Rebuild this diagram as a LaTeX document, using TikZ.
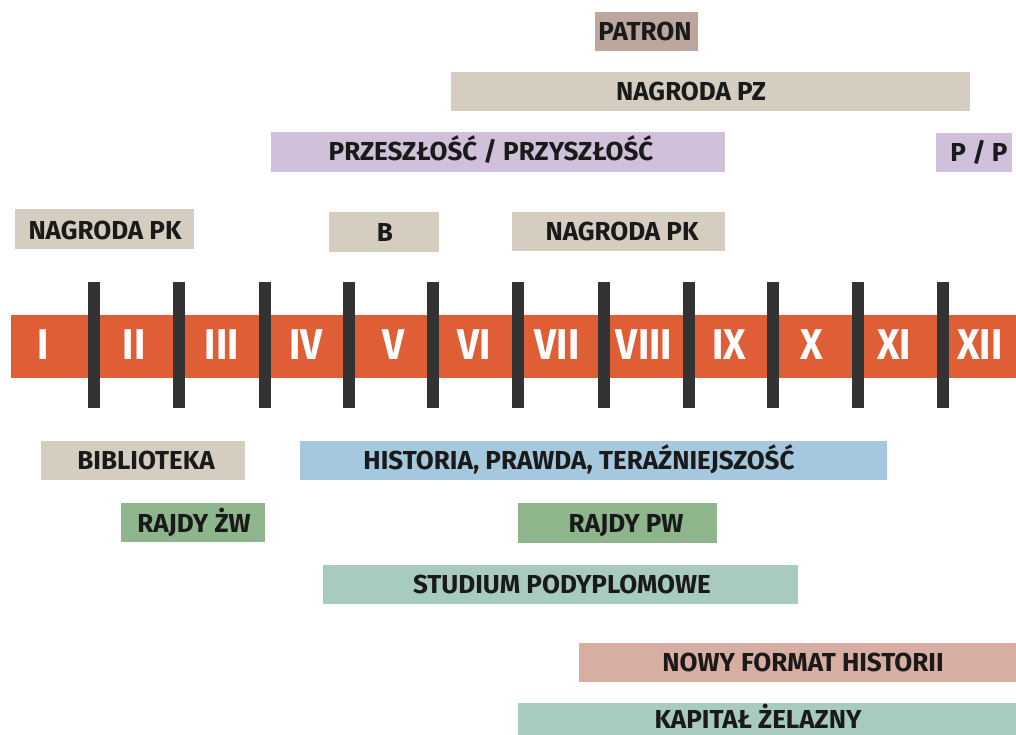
\documentclass[tikz,border=0pt]{standalone}
\usepackage{fontspec}
\setmainfont{Fira Sans}
\newfontfamily\numeralfont{Fira Sans}[FakeStretch=0.9]
\tikzset{
  lbl/.style={font=\bfseries\fontsize{26}{26}\selectfont, text=inkdark, inner sep=0pt, anchor=base},
  num/.style={font=\numeralfont\bfseries\fontsize{43}{43}\selectfont, text=white, inner sep=0pt, anchor=base},
  divider/.style={line width=12pt, draw=bardark}
}
\begin{document}
\begin{tikzpicture}[x=1pt,y=-1pt]
\definecolor{inkdark}{RGB}{26,26,26}
\definecolor{bardark}{RGB}{51,51,51}
\definecolor{bandorange}{RGB}{224,94,54}
\definecolor{beige}{RGB}{213,205,191}
\definecolor{taupe}{RGB}{189,166,156}
\definecolor{lilac}{RGB}{208,192,218}
\definecolor{skyblue}{RGB}{165,200,222}
\definecolor{sage}{RGB}{143,181,141}
\definecolor{seafoam}{RGB}{168,203,192}
\definecolor{blush}{RGB}{216,173,162}

	\useasboundingbox (0,0) rectangle (1016,735);

	% above the timeline
	\fill[taupe] (595,12) rectangle (698,51);
	\fill[beige] (451,72) rectangle (970,111);
	\fill[lilac] (271,132) rectangle (725,172);
	\fill[lilac] (936,133) rectangle (1012,172);
	\fill[beige] (15,209) rectangle (194,249);
	\fill[beige] (329,212) rectangle (439,252);
	\fill[beige] (512,212) rectangle (725,251);

	\node[lbl] (patron) at (645,40.5){PATRON};
	\node[lbl] (nagrodaPZ) at (691,100.5){NAGRODA PZ};
	\node[lbl] (przeszlosc) at (491,161){PRZESZŁOŚĆ / PRZYSZŁOŚĆ};
	\node[lbl] (pp) at (979,161.5){P / P};
	\node[lbl] (nagrodaPKa) at (105,240){NAGRODA PK};
	\node[lbl] (b) at (385,241){B};
	\node[lbl] (nagrodaPKb) at (622,240.5){NAGRODA PK};

	% timeline
	\fill[bandorange] (11,315) rectangle (1016,378);

	\node[num] (m1) at (43,359){I};
	\node[num] (m2) at (134,359){II};
	\node[num] (m3) at (222,359){III};
	\node[num] (m4) at (306,359){IV};
	\node[num] (m5) at (394,359){V};
	\node[num] (m6) at (474,359){VI};
	\node[num] (m7) at (557,359){VII};
	\node[num] (m8) at (644,359){VIII};
	\node[num] (m9) at (729,359){IX};
	\node[num] (m10) at (812,359){X};
	\node[num] (m11) at (894,359){XI};
	\node[num] (m12) at (980,359){XII};

	\draw[divider] (94,282) -- (94,408);
	\draw[divider] (179,282) -- (179,408);
	\draw[divider] (265,282) -- (265,408);
	\draw[divider] (349,282) -- (349,408);
	\draw[divider] (433,282) -- (433,408);
	\draw[divider] (518,282) -- (518,408);
	\draw[divider] (604,282) -- (604,408);
	\draw[divider] (689,282) -- (689,408);
	\draw[divider] (773,282) -- (773,408);
	\draw[divider] (858,282) -- (858,408);
	\draw[divider] (943,282) -- (943,408);

	% below the timeline
	\fill[beige] (41,441) rectangle (245,480);
	\fill[skyblue] (300,441) rectangle (887,480);
	\fill[sage] (121,503) rectangle (265,542);
	\fill[sage] (518,503) rectangle (717,543);
	\fill[seafoam] (323,565) rectangle (798,604);
	\fill[blush] (579,643) rectangle (1016,682);
	\fill[seafoam] (518,703) rectangle (1016,735);

	\node[lbl] (biblioteka) at (146,469.5){BIBLIOTEKA};
	\node[lbl] (historia) at (579,469.5){HISTORIA, PRAWDA, TERAŹNIEJSZOŚĆ};
	\node[lbl] (rajdyZW) at (194,532){RAJDY ŻW};
	\node[lbl] (rajdyPW) at (626,532){RAJDY PW};
	\node[lbl] (studium) at (562,593.5){STUDIUM PODYPLOMOWE};
	\node[lbl] (nowyformat) at (803,671.5){NOWY FORMAT HISTORII};
	\node[lbl] (kapital) at (758,728.5){KAPITAŁ ŻELAZNY};

\end{tikzpicture}
\end{document}
